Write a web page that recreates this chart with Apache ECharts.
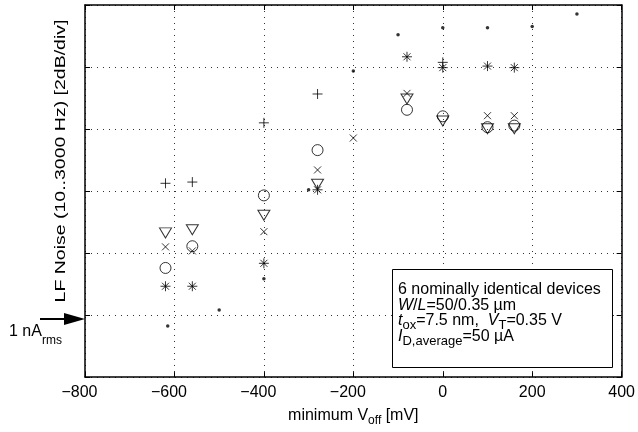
<!DOCTYPE html>
<html>
<head>
<meta charset="utf-8">
<script src="https://cdn.jsdelivr.net/npm/echarts@6/dist/echarts.min.js"></script>
<style>
  html, body { margin: 0; padding: 0; background: #fff; }
  #chart { width: 638px; height: 432px; }
</style>
</head>
<body>
<div id="chart"></div>
<script>
// Axis ranges and ticks (x in mV, y in dB, 2 dB per division)
const xTicks = [-800, -600, -400, -200, 0, 200, 400];
const yTicks = [0, 2, 4, 6, 8, 10, 12];

// Device 1 (dot)
const dotX = [-615, -500, -400, -300, -200, -100, 0, 100, 200, 300];
const dotY = [1.65, 2.16, 3.17, 6.04, 9.87, 11.04, 11.27, 11.27, 11.31, 11.71];
// Device 2 (plus)
const plusX = [-620, -560, -400, -280, 0];
const plusY = [6.25, 6.29, 8.20, 9.13, 10.15];
// Device 3 (cross)
const crossX = [-620, -560, -400, -280, -200, -80, 100, 160];
const crossY = [4.20, 4.07, 4.69, 6.68, 7.71, 9.15, 8.43, 8.43];
// Device 4 (circle)
const circX = [-620, -560, -400, -280, -80, 0, 100, 160];
const circY = [3.52, 4.22, 5.86, 7.32, 8.62, 8.41, 8.06, 8.11];
// Device 5 (triangle down)
const triX = [-620, -560, -400, -280, -80, 0, 100, 160];
const triY = [4.65, 4.75, 5.22, 6.22, 8.97, 8.26, 8.01, 8.01];
// Device 6 (asterisk)
const starX = [-620, -560, -400, -280, -80, 0, 100, 160];
const starY = [2.93, 2.93, 3.67, 6.04, 10.33, 9.98, 10.03, 9.98];

const FONT = 'Liberation Sans';
const pairs = (xs, ys) => xs.map((x, i) => [x, ys[i]]);

const hollow = { color: 'rgba(0,0,0,0)', borderColor: '#000', borderWidth: 1 };

function markerSeries(name, xs, ys, symbol, size, style) {
  return {
    name, type: 'scatter', data: pairs(xs, ys),
    symbol, symbolSize: size, itemStyle: style,
    emphasis: { disabled: true }, animation: false
  };
}

const chart = echarts.init(document.getElementById('chart'), null, { renderer: 'canvas' });

const gridLine = { show: true, lineStyle: { color: '#333', width: 1, type: [1, 5] } };
const boxLine = { show: true, onZero: false, lineStyle: { color: '#000', width: 1.5 } };
const tickIn = { show: true, inside: true, length: 5, lineStyle: { color: '#000', width: 1 } };

chart.setOption({
  animation: false,
  textStyle: { fontFamily: FONT },
  grid: { left: 85, right: 16, top: 5, bottom: 51 },
  xAxis: [
    {
      type: 'value', min: xTicks[0], max: xTicks[xTicks.length - 1], interval: 200,
      axisLine: boxLine, axisTick: tickIn, splitLine: gridLine,
      axisLabel: {
        color: '#000', fontSize: 16, fontFamily: FONT, margin: 7,
        // negative labels sit slightly left of their tick
        formatter: v => v < 0 ? '{neg|\u2212' + Math.abs(v) + '}' : String(v),
        rich: { neg: { fontSize: 16, fontFamily: FONT, color: '#000', padding: [0, 11, 0, 0] } }
      },
      name: 'minimum V{sub|off} [mV]', nameLocation: 'middle', nameGap: 24,
      nameTextStyle: {
        color: '#000', fontSize: 16, fontFamily: FONT,
        rich: { sub: { fontSize: 12, fontFamily: FONT, color: '#000', padding: [10, 0, 0, 0], lineHeight: 18 } }
      }
    },
    {
      type: 'value', position: 'top', min: xTicks[0], max: xTicks[xTicks.length - 1], interval: 200,
      axisLine: boxLine, axisTick: tickIn, axisLabel: { show: false }, splitLine: { show: false }
    }
  ],
  yAxis: [
    {
      type: 'value', position: 'left', min: yTicks[0], max: yTicks[yTicks.length - 1], interval: 2,
      axisLine: boxLine, axisTick: tickIn, splitLine: gridLine, axisLabel: { show: false }
    },
    {
      type: 'value', position: 'right', min: yTicks[0], max: yTicks[yTicks.length - 1], interval: 2,
      axisLine: boxLine, axisTick: tickIn, splitLine: { show: false }, axisLabel: { show: false }
    }
  ],
  series: [
    markerSeries('dot', dotX, dotY, 'circle', 3.5, { color: '#000' }),
    markerSeries('plus', plusX, plusY, 'path://M5,0L5,10M0,5L10,5', 10, hollow),
    markerSeries('cross', crossX, crossY, 'path://M0,0L10,10M10,0L0,10', 7, hollow),
    markerSeries('circle', circX, circY, 'circle', 11, hollow),
    markerSeries('triangle', triX, triY, 'path://M0,0L12,0L6,10Z', [12, 10], hollow),
    markerSeries('asterisk', starX, starY,
      'path://M5,0L5,10M0,5L10,5M1.5,1.5L8.5,8.5M8.5,1.5L1.5,8.5', 10, hollow)
  ],
  graphic: [
    // y-axis title
    {
      type: 'text', x: 61, y: 161, rotation: Math.PI / 2, scaleX: 1.3,
      style: {
        text: 'LF Noise (10..3000 Hz) [2dB/div]', font: '15px "Liberation Sans"',
        fill: '#000', align: 'center', verticalAlign: 'middle'
      }
    },
    // reference level arrow
    { type: 'line', shape: { x1: 40, y1: 319, x2: 68, y2: 319 }, style: { stroke: '#000', lineWidth: 2 } },
    { type: 'polygon', shape: { points: [[64, 313], [85, 319], [64, 325]] }, style: { fill: '#000' } },
    {
      type: 'text', x: 9, y: 331.5,
      style: {
        text: '1 nA{sub|rms}', font: '16px "Liberation Sans"', fill: '#000',
        verticalAlign: 'middle',
        rich: { sub: { font: '12px "Liberation Sans"', fill: '#000', padding: [18, 0, 0, 0], lineHeight: 17 } }
      }
    },
    // parameter box
    {
      type: 'rect', shape: { x: 392.5, y: 269.5, width: 220, height: 98 },
      style: { fill: '#fff', stroke: '#000', lineWidth: 1 }, z: 10
    },
    {
      type: 'text', x: 398, y: 282, z: 11,
      style: {
        text: '6 nominally identical devices\n' +
              '{i|W}/{i|L}=50/0.35 \u00b5m\n' +
              '{i|t}{sub|ox}=7.5 nm,  {i|V}{sub|T}=0.35 V\n' +
              '{i|I}{sub|D,average}=50 \u00b5A',
        font: '16px "Liberation Sans"', fill: '#000', lineHeight: 15.5,
        rich: {
          i: { font: 'italic 16px "Liberation Sans"', fill: '#000', lineHeight: 15.5 },
          sub: { font: '13px "Liberation Sans"', fill: '#000', lineHeight: 15.5, padding: [10, 0, 0, 0] }
        }
      }
    }
  ]
});
</script>
</body>
</html>
